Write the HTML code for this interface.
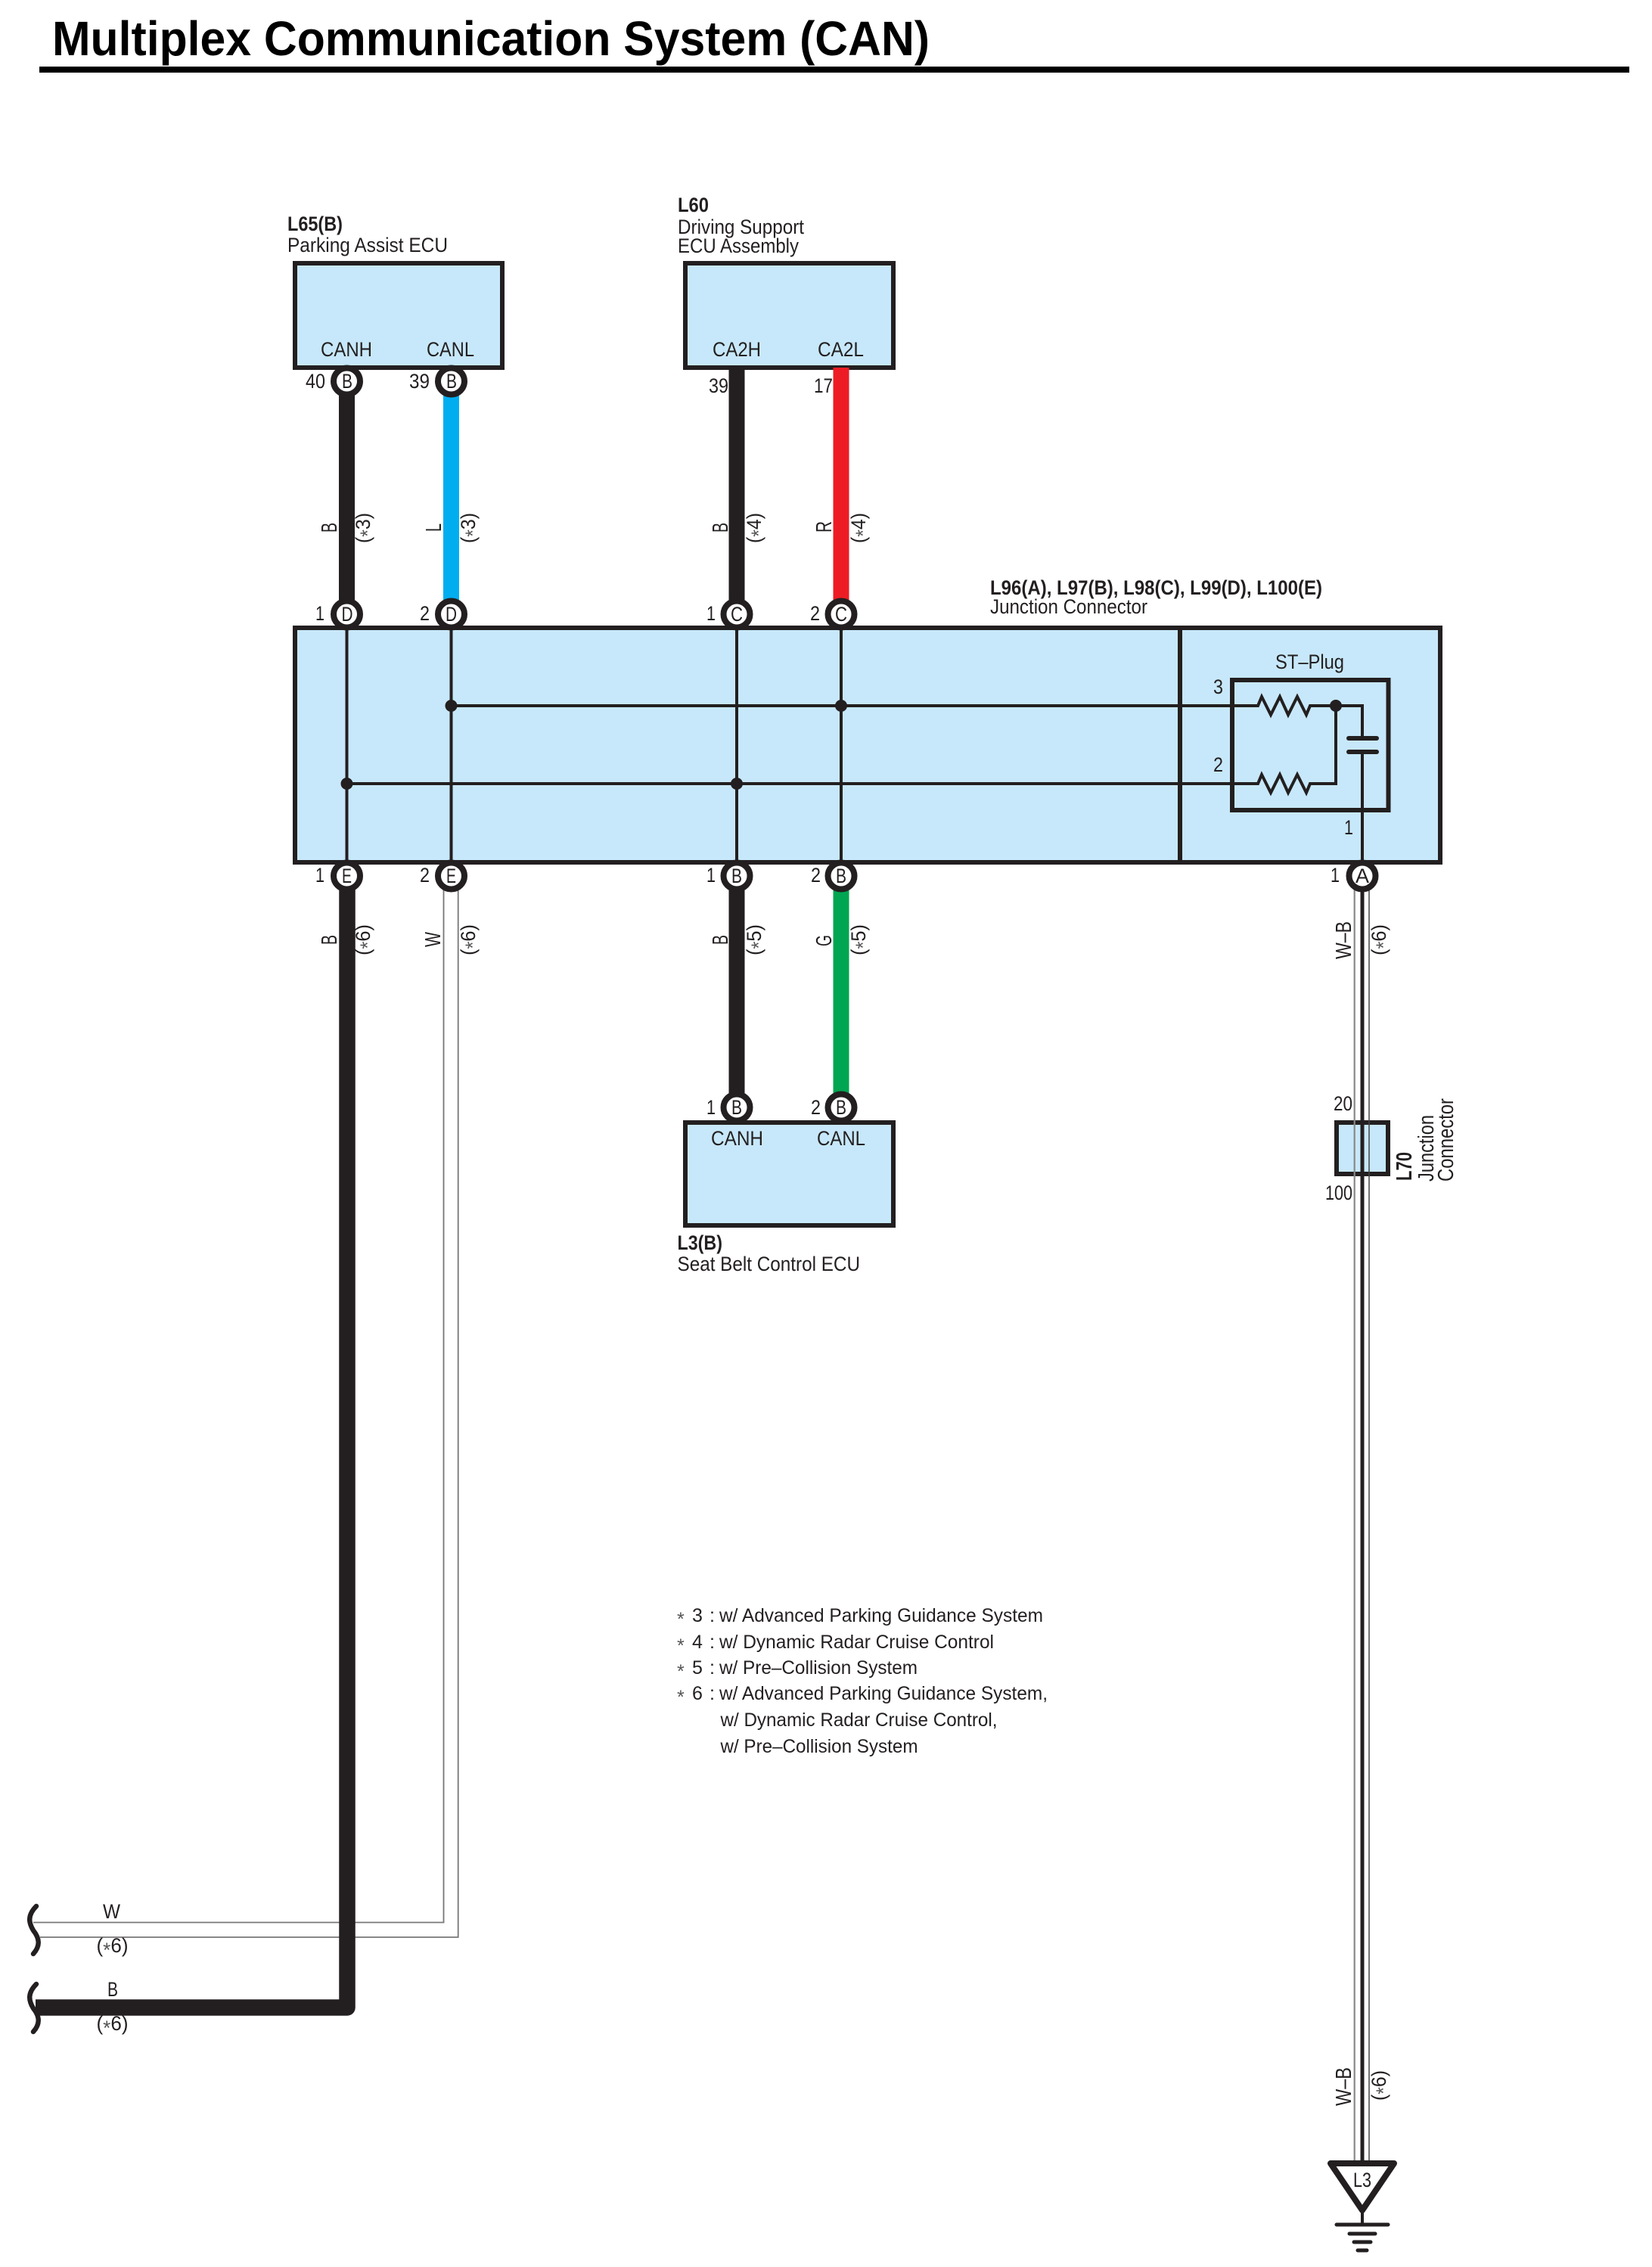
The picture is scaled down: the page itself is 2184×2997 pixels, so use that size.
<!DOCTYPE html>
<html>
<head>
<meta charset="utf-8">
<title>Multiplex Communication System (CAN)</title>
<style>
html,body{margin:0;padding:0;background:#fff;}
svg{display:block;}
text{font-family:"Liberation Sans",Arial,sans-serif;font-size:27px;fill:#231f20;}
text[transform]{font-size:29px;}
text.p{font-size:27px;}
.b{font-weight:bold;}
text.f{font-size:25px;}
tspan.a{fill:#555;}
</style>
</head>
<body>
<svg xmlns="http://www.w3.org/2000/svg" width="2184" height="2997" viewBox="0 0 2184 2997">
<rect width="2184" height="2997" fill="#fff"/>

<!-- Title -->
<text x="69" y="73" class="b" style="font-size:64px;fill:#000" textLength="1160" lengthAdjust="spacingAndGlyphs">Multiplex Communication System (CAN)</text>
<rect x="52" y="88" width="2102" height="8" fill="#000"/>

<!-- Boxes -->
<g fill="#c7e8fa" stroke="#231f20" stroke-width="6">
<rect x="390" y="348" width="274" height="138"/>
<rect x="906" y="348" width="275" height="138"/>
<rect x="390" y="830" width="1514" height="310"/>
<rect x="906" y="1484" width="275" height="136"/>
<rect x="1767" y="1484" width="68" height="68"/>
</g>
<line x1="1560" y1="830" x2="1560" y2="1140" stroke="#231f20" stroke-width="6"/>
<rect x="1629" y="899" width="206.500" height="172" fill="none" stroke="#231f20" stroke-width="6"/>

<!-- Inner wiring -->
<g fill="none" stroke="#231f20" stroke-width="4">
<path d="M458.500 830V1140M596.500 830V1140M974 830V1140M1112 830V1140"/>
<path d="M596.500 933H1663L1668 921L1680 945L1692 921L1703 945L1715 921L1727 945L1732 933H1801V976"/>
<path d="M458.500 1036H1663L1668 1024L1680 1048L1692 1024L1703 1048L1715 1024L1727 1048L1732 1036H1766V933"/>
<path d="M1801 994V1140"/>
</g>
<g fill="#231f20">
<circle cx="596.500" cy="933" r="8"/><circle cx="1112" cy="933" r="8"/>
<circle cx="458.500" cy="1036" r="8"/><circle cx="974" cy="1036" r="8"/>
<circle cx="1766" cy="933" r="8"/>
</g>
<g stroke="#231f20" stroke-width="6" stroke-linecap="round">
<line x1="1783" y1="976" x2="1820" y2="976"/>
<line x1="1783" y1="994" x2="1820" y2="994"/>
</g>

<!-- Wires -->
<g fill="none" stroke-linecap="butt">
<line x1="458.500" y1="503" x2="458.500" y2="811" stroke="#231f20" stroke-width="21"/>
<line x1="596.500" y1="503" x2="596.500" y2="811" stroke="#00aeef" stroke-width="21"/>
<line x1="974" y1="486" x2="974" y2="811" stroke="#231f20" stroke-width="21"/>
<line x1="1112" y1="486" x2="1112" y2="811" stroke="#ed1c24" stroke-width="21"/>
<line x1="974" y1="1158" x2="974" y2="1464" stroke="#231f20" stroke-width="21"/>
<line x1="1112" y1="1158" x2="1112" y2="1464" stroke="#00a651" stroke-width="21"/>
<path d="M586.500 1158V2541.500H44" stroke="#777" stroke-width="1.800"/>
<path d="M605.700 1158V2561H53" stroke="#777" stroke-width="1.800"/>
<path d="M459 1158V2654H47" stroke="#231f20" stroke-width="21.500" stroke-linejoin="round"/>
<line x1="1790.700" y1="1158" x2="1790.700" y2="2860" stroke="#888" stroke-width="2.200"/>
<line x1="1810" y1="1158" x2="1810" y2="2860" stroke="#444" stroke-width="1.500"/>
<line x1="1801" y1="1158" x2="1801" y2="2860" stroke="#231f20" stroke-width="5"/>
</g>

<!-- Break squiggles -->
<g fill="none" stroke="#231f20" stroke-width="6.500" stroke-linecap="round">
<path d="M48 2520C36 2532 38 2542 44 2552C52 2562 54 2572 44 2583"/>
<path d="M48 2623C36 2635 38 2645 44 2655C52 2665 54 2675 44 2686"/>
</g>

<!-- Connector circles -->
<g fill="#fff" stroke="#231f20" stroke-width="8">
<circle cx="458.500" cy="504" r="17.500"/><circle cx="596.500" cy="504" r="17.500"/>
<circle cx="458.500" cy="812" r="17.500"/><circle cx="596.500" cy="812" r="17.500"/>
<circle cx="974" cy="812" r="17.500"/><circle cx="1112" cy="812" r="17.500"/>
<circle cx="458.500" cy="1158" r="17.500"/><circle cx="596.500" cy="1158" r="17.500"/>
<circle cx="974" cy="1158" r="17.500"/><circle cx="1112" cy="1158" r="17.500"/>
<circle cx="1801" cy="1158" r="17.500"/>
<circle cx="974" cy="1464" r="17.500"/><circle cx="1112" cy="1464" r="17.500"/>
</g>
<g text-anchor="start">
<text x="452" y="513" textLength="14" lengthAdjust="spacingAndGlyphs">B</text>
<text x="590" y="513" textLength="14" lengthAdjust="spacingAndGlyphs">B</text>
<text x="451.500" y="821" textLength="15" lengthAdjust="spacingAndGlyphs">D</text>
<text x="589" y="821" textLength="15" lengthAdjust="spacingAndGlyphs">D</text>
<text x="966" y="821" textLength="16" lengthAdjust="spacingAndGlyphs">C</text>
<text x="1104" y="821" textLength="16" lengthAdjust="spacingAndGlyphs">C</text>
<text x="452" y="1167" textLength="13" lengthAdjust="spacingAndGlyphs">E</text>
<text x="590" y="1167" textLength="13" lengthAdjust="spacingAndGlyphs">E</text>
<text x="967" y="1167" textLength="14" lengthAdjust="spacingAndGlyphs">B</text>
<text x="1105" y="1167" textLength="14" lengthAdjust="spacingAndGlyphs">B</text>
<text x="1792" y="1167" textLength="18" lengthAdjust="spacingAndGlyphs">A</text>
<text x="967" y="1473" textLength="14" lengthAdjust="spacingAndGlyphs">B</text>
<text x="1105" y="1473" textLength="14" lengthAdjust="spacingAndGlyphs">B</text>
</g>

<!-- Pin numbers -->
<text x="404" y="513" textLength="26" lengthAdjust="spacingAndGlyphs">40</text>
<text x="541" y="513" textLength="27" lengthAdjust="spacingAndGlyphs">39</text>
<text x="937" y="519" textLength="26" lengthAdjust="spacingAndGlyphs">39</text>
<text x="1076" y="519" textLength="25" lengthAdjust="spacingAndGlyphs">17</text>
<text x="417" y="820" textLength="12" lengthAdjust="spacingAndGlyphs">1</text>
<text x="555" y="820" textLength="13" lengthAdjust="spacingAndGlyphs">2</text>
<text x="934" y="820" textLength="12" lengthAdjust="spacingAndGlyphs">1</text>
<text x="1071" y="820" textLength="13" lengthAdjust="spacingAndGlyphs">2</text>
<text x="417" y="1166" textLength="12" lengthAdjust="spacingAndGlyphs">1</text>
<text x="555" y="1166" textLength="13" lengthAdjust="spacingAndGlyphs">2</text>
<text x="934" y="1166" textLength="12" lengthAdjust="spacingAndGlyphs">1</text>
<text x="1072" y="1166" textLength="13" lengthAdjust="spacingAndGlyphs">2</text>
<text x="1759" y="1166" textLength="12" lengthAdjust="spacingAndGlyphs">1</text>
<text x="934" y="1473" textLength="12" lengthAdjust="spacingAndGlyphs">1</text>
<text x="1072" y="1473" textLength="13" lengthAdjust="spacingAndGlyphs">2</text>
<text x="1763" y="1468" textLength="25" lengthAdjust="spacingAndGlyphs">20</text>
<text x="1752" y="1586" textLength="36" lengthAdjust="spacingAndGlyphs">100</text>
<text x="1604" y="917" textLength="13" lengthAdjust="spacingAndGlyphs">3</text>
<text x="1604" y="1020" textLength="13" lengthAdjust="spacingAndGlyphs">2</text>
<text x="1777" y="1103" textLength="12" lengthAdjust="spacingAndGlyphs">1</text>

<!-- Component labels -->
<text x="380" y="305" class="b" textLength="73" lengthAdjust="spacingAndGlyphs">L65(B)</text>
<text x="380" y="333" textLength="212" lengthAdjust="spacingAndGlyphs">Parking Assist ECU</text>
<text x="896" y="280" class="b" textLength="41" lengthAdjust="spacingAndGlyphs">L60</text>
<text x="896" y="309" textLength="167" lengthAdjust="spacingAndGlyphs">Driving Support</text>
<text x="896" y="334" textLength="160" lengthAdjust="spacingAndGlyphs">ECU Assembly</text>
<text x="424" y="471" textLength="68" lengthAdjust="spacingAndGlyphs">CANH</text>
<text x="564" y="471" textLength="63" lengthAdjust="spacingAndGlyphs">CANL</text>
<text x="942" y="471" textLength="64" lengthAdjust="spacingAndGlyphs">CA2H</text>
<text x="1081" y="471" textLength="61" lengthAdjust="spacingAndGlyphs">CA2L</text>
<text x="1309" y="786" class="b" textLength="439" lengthAdjust="spacingAndGlyphs">L96(A), L97(B), L98(C), L99(D), L100(E)</text>
<text x="1309" y="811" textLength="208" lengthAdjust="spacingAndGlyphs">Junction Connector</text>
<text x="1686" y="884" textLength="91" lengthAdjust="spacingAndGlyphs">ST–Plug</text>
<text x="940" y="1514" textLength="69" lengthAdjust="spacingAndGlyphs">CANH</text>
<text x="1080" y="1514" textLength="64" lengthAdjust="spacingAndGlyphs">CANL</text>
<text x="895.500" y="1652" class="b" textLength="59.500" lengthAdjust="spacingAndGlyphs">L3(B)</text>
<text x="895.500" y="1680" textLength="241.500" lengthAdjust="spacingAndGlyphs">Seat Belt Control ECU</text>

<!-- L70 rotated -->
<text transform="translate(1866 1561) rotate(-90)" class="b" textLength="38" lengthAdjust="spacingAndGlyphs">L70</text>
<text transform="translate(1895 1562) rotate(-90)" textLength="88" lengthAdjust="spacingAndGlyphs">Junction</text>
<text transform="translate(1921 1562) rotate(-90)" textLength="110" lengthAdjust="spacingAndGlyphs">Connector</text>

<!-- Rotated wire labels upper -->
<text transform="translate(445 704) rotate(-90)" textLength="13" lengthAdjust="spacingAndGlyphs">B</text>
<text class="p" transform="translate(489 718) rotate(-90)" textLength="40" lengthAdjust="spacingAndGlyphs">(<tspan class="a" dy="6">*</tspan><tspan dy="-6">3)</tspan></text>
<text transform="translate(583 703) rotate(-90)" textLength="11" lengthAdjust="spacingAndGlyphs">L</text>
<text class="p" transform="translate(628 718) rotate(-90)" textLength="40" lengthAdjust="spacingAndGlyphs">(<tspan class="a" dy="6">*</tspan><tspan dy="-6">3)</tspan></text>
<text transform="translate(962 704) rotate(-90)" textLength="13" lengthAdjust="spacingAndGlyphs">B</text>
<text class="p" transform="translate(1006 718) rotate(-90)" textLength="40" lengthAdjust="spacingAndGlyphs">(<tspan class="a" dy="6">*</tspan><tspan dy="-6">4)</tspan></text>
<text transform="translate(1099 704) rotate(-90)" textLength="15" lengthAdjust="spacingAndGlyphs">R</text>
<text class="p" transform="translate(1144 718) rotate(-90)" textLength="40" lengthAdjust="spacingAndGlyphs">(<tspan class="a" dy="6">*</tspan><tspan dy="-6">4)</tspan></text>

<!-- Rotated wire labels lower -->
<text transform="translate(445 1249) rotate(-90)" textLength="13" lengthAdjust="spacingAndGlyphs">B</text>
<text class="p" transform="translate(489 1263) rotate(-90)" textLength="41" lengthAdjust="spacingAndGlyphs">(<tspan class="a" dy="6">*</tspan><tspan dy="-6">6)</tspan></text>
<text transform="translate(582 1252) rotate(-90)" textLength="20" lengthAdjust="spacingAndGlyphs">W</text>
<text class="p" transform="translate(628 1263) rotate(-90)" textLength="41" lengthAdjust="spacingAndGlyphs">(<tspan class="a" dy="6">*</tspan><tspan dy="-6">6)</tspan></text>
<text transform="translate(962 1249) rotate(-90)" textLength="13" lengthAdjust="spacingAndGlyphs">B</text>
<text class="p" transform="translate(1006 1263) rotate(-90)" textLength="41" lengthAdjust="spacingAndGlyphs">(<tspan class="a" dy="6">*</tspan><tspan dy="-6">5)</tspan></text>
<text transform="translate(1099 1251) rotate(-90)" textLength="15" lengthAdjust="spacingAndGlyphs">G</text>
<text class="p" transform="translate(1144 1263) rotate(-90)" textLength="41" lengthAdjust="spacingAndGlyphs">(<tspan class="a" dy="6">*</tspan><tspan dy="-6">5)</tspan></text>
<text transform="translate(1786 1268) rotate(-90)" textLength="50" lengthAdjust="spacingAndGlyphs">W–B</text>
<text class="p" transform="translate(1832 1263) rotate(-90)" textLength="41" lengthAdjust="spacingAndGlyphs">(<tspan class="a" dy="6">*</tspan><tspan dy="-6">6)</tspan></text>
<text transform="translate(1786 2784) rotate(-90)" textLength="51" lengthAdjust="spacingAndGlyphs">W–B</text>
<text class="p" transform="translate(1832 2777) rotate(-90)" textLength="40" lengthAdjust="spacingAndGlyphs">(<tspan class="a" dy="6">*</tspan><tspan dy="-6">6)</tspan></text>

<!-- Left wire labels -->
<text x="136" y="2536" textLength="23" lengthAdjust="spacingAndGlyphs">W</text>
<text x="127.500" y="2581" textLength="42" lengthAdjust="spacingAndGlyphs">(<tspan class="a" dy="6">*</tspan><tspan dy="-6">6)</tspan></text>
<text x="142" y="2639" textLength="14" lengthAdjust="spacingAndGlyphs">B</text>
<text x="127.500" y="2684" textLength="42" lengthAdjust="spacingAndGlyphs">(<tspan class="a" dy="6">*</tspan><tspan dy="-6">6)</tspan></text>

<!-- Notes -->
<text x="895" y="2149" class="f"><tspan class="a">*</tspan></text>
<text x="915" y="2144" class="f">3</text><text x="938" y="2144" class="f">:</text>
<text x="951" y="2144" class="f" textLength="428" lengthAdjust="spacingAndGlyphs">w/ Advanced Parking Guidance System</text>
<text x="895" y="2184" class="f"><tspan class="a">*</tspan></text>
<text x="915" y="2179" class="f">4</text><text x="938" y="2179" class="f">:</text>
<text x="951" y="2179" class="f" textLength="363" lengthAdjust="spacingAndGlyphs">w/ Dynamic Radar Cruise Control</text>
<text x="895" y="2218" class="f"><tspan class="a">*</tspan></text>
<text x="915" y="2213" class="f">5</text><text x="938" y="2213" class="f">:</text>
<text x="951" y="2213" class="f" textLength="262" lengthAdjust="spacingAndGlyphs">w/ Pre–Collision System</text>
<text x="895" y="2252" class="f"><tspan class="a">*</tspan></text>
<text x="915" y="2247" class="f">6</text><text x="938" y="2247" class="f">:</text>
<text x="951" y="2247" class="f" textLength="434" lengthAdjust="spacingAndGlyphs">w/ Advanced Parking Guidance System,</text>
<text x="952.500" y="2282" class="f" textLength="366" lengthAdjust="spacingAndGlyphs">w/ Dynamic Radar Cruise Control,</text>
<text x="952.500" y="2317" class="f" textLength="261" lengthAdjust="spacingAndGlyphs">w/ Pre–Collision System</text>

<!-- Ground / L3 -->
<path d="M1759 2860H1843L1801 2922Z" fill="#fff" stroke="#231f20" stroke-width="8" stroke-linejoin="round"/>
<text x="1789" y="2891" textLength="24" lengthAdjust="spacingAndGlyphs">L3</text>
<line x1="1801" y1="2922" x2="1801" y2="2941" stroke="#231f20" stroke-width="4"/>
<g stroke="#231f20" stroke-linecap="round" stroke-width="5">
<line x1="1767" y1="2941" x2="1835" y2="2941"/>
<line x1="1784" y1="2953" x2="1818" y2="2953"/>
<line x1="1790" y1="2964" x2="1812" y2="2964"/>
<line x1="1795" y1="2975" x2="1807" y2="2975"/>
</g>
</svg>
</body>
</html>
